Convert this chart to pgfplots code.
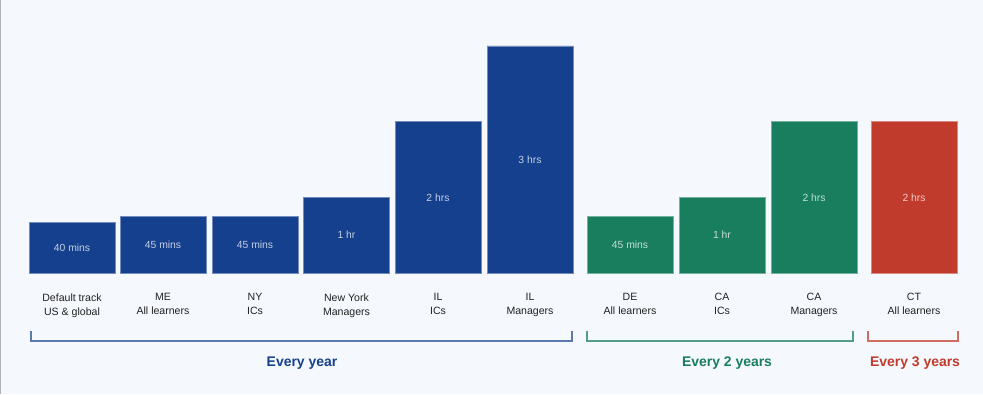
\documentclass[border=0pt]{standalone}
\usepackage{pgfplots}
\pgfplotsset{compat=1.18}
\usepackage{pgfplotstable}
\usepackage{fontspec}
\setmainfont{Liberation Sans}
\definecolor{bgc}{HTML}{F5F8FD}
\definecolor{cblue}{HTML}{15408D}
\definecolor{cgreen}{HTML}{187E5D}
\definecolor{cred}{HTML}{C13B2C}
\definecolor{ctxt}{HTML}{222222}

\pgfplotstableread{
x y label
72 40 {40 mins}
163 45 {45 mins}
255 45 {45 mins}
346.5 60 {1 hr}
438 120 {2 hrs}
530 180 {3 hrs}
}\yearly
\pgfplotstableread{
x y label
630 45 {45 mins}
722 60 {1 hr}
814 120 {2 hrs}
}\twoyear
\pgfplotstableread{
x y label
914 120 {2 hrs}
}\threeyear

\begin{document}
\begin{tikzpicture}[x=1bp,y=1bp]
\fill[bgc] (0,0) rectangle (983,394);
\draw[gray!60, line width=1.5bp] (0.75,0) -- (0.75,394);
\begin{axis}[
  at={(0bp,121bp)}, anchor=south west,
  scale only axis, width=983bp, height=227bp,
  xmin=0, xmax=983, ymin=0, ymax=180,
  clip=false,
  axis line style={draw=none},
  tick style={draw=none},
  ytick=\empty,
  xtick={72,163,255,346.5,438,530,630,722,814,914},
  xticklabels={{Default track\\US \& global},{ME\\All learners},{NY\\ICs},{New York\\Managers},{IL\\ICs},{IL\\Managers},{DE\\All learners},{CA\\ICs},{CA\\Managers},{CT\\All learners}},
  xticklabel style={align=center, font=\fontsize{10.6}{14}\selectfont, text=ctxt, yshift=-17bp},
  bar width=86,
  nodes near coords,
  point meta=explicit symbolic,
  every node near coord/.append style={font=\fontsize{10.4}{12}\selectfont, text=white, text opacity=0.75, anchor=center},
]
\addplot[ybar, fill=cblue, draw=cblue!60!white, line width=0.6bp, nodes near coords=\empty] table[x=x,y=y] {\yearly};
\addplot[ybar, fill=cgreen, draw=cgreen!60!white, line width=0.6bp, nodes near coords=\empty] table[x=x,y=y] {\twoyear};
\addplot[ybar, fill=cred, draw=cred!60!white, line width=0.6bp, nodes near coords=\empty] table[x=x,y=y] {\threeyear};
\addplot[only marks, mark=none] table[x=x, y expr=\thisrow{y}/2, meta=label] {\yearly};
\addplot[only marks, mark=none] table[x=x, y expr=\thisrow{y}/2, meta=label] {\twoyear};
\addplot[only marks, mark=none] table[x=x, y expr=\thisrow{y}/2, meta=label] {\threeyear};
\end{axis}
\draw[cblue!70!white, line width=1.2bp] (31,63) -- (31,53) -- (572,53) -- (572,63);
\draw[cgreen!75!white, line width=1.2bp] (587,63) -- (587,53) -- (853,53) -- (853,63);
\draw[cred!75!white, line width=1.2bp] (868,63) -- (868,53) -- (958,53) -- (958,63);
\node[text=cblue, font=\fontsize{14}{16}\selectfont\bfseries] at (302,31) {Every year};
\node[text=cgreen, font=\fontsize{14}{16}\selectfont\bfseries] at (727,31) {Every 2 years};
\node[text=cred, font=\fontsize{14}{16}\selectfont\bfseries] at (915,31) {Every 3 years};
\pgfresetboundingbox
\path (0,0) rectangle (983,394);
\end{tikzpicture}
\end{document}
